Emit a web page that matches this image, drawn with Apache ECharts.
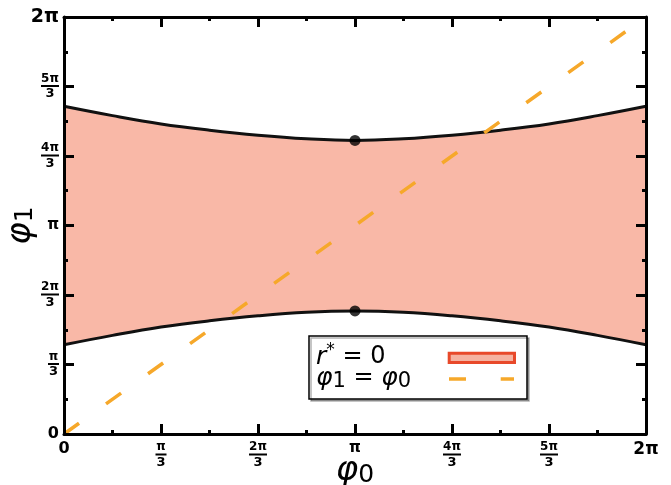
<!DOCTYPE html>
<html>
<head>
<meta charset="utf-8">
<script src="https://cdn.jsdelivr.net/npm/echarts@6/dist/echarts.min.js"></script>
<style>
  html, body { margin: 0; padding: 0; background: #fff; }
  #chart { width: 671px; height: 485px; }
</style>
</head>
<body>
<div id="chart"></div>
<script>
// φ0 sample points and the two boundaries of the r* = 0 region, all in multiples of π
const phi0 = [0, 1/6, 2/6, 3/6, 4/6, 5/6, 1, 7/6, 8/6, 9/6, 10/6, 11/6, 2];
const upperBound = [1.572, 1.527, 1.487, 1.457, 1.433, 1.416, 1.408, 1.416, 1.433, 1.457, 1.487, 1.527, 1.572];
const lowerBound = [0.428, 0.473, 0.513, 0.543, 0.567, 0.584, 0.590, 0.584, 0.567, 0.543, 0.513, 0.473, 0.428];

// marked points at φ0 = π
const markPhi0 = [1, 1];
const markPhi1 = [1.408, 0.590];

// diagonal φ1 = φ0 end points
const diagPhi0 = [0, 2];
const diagPhi1 = [0, 2];

// tick labels, one per π/3
const tickLabels = ['0', 'π/3', '2π/3', 'π', '4π/3', '5π/3', '2π'];

// axes are measured in sixths of π so that ticks land on whole numbers
const SIXTHS = 6;
const toAxis = v => v * SIXTHS;

const FILL = '#f9b8a7';
const PATCH = '#f5b2a0';
const EDGE = '#e8492a';
const ORANGE = '#f6a82a';
const INK = '#111111';
const MATH = 'DejaVu Sans';

function tickFormatter(value) {
  const t = tickLabels[Math.round(value / 2)];
  if (t === '0') return '{z|0}';
  if (t === 'π') return '{p|π}';
  if (t === '2π') return '{w|2π}';
  const parts = t.split('/');
  const bar = parts[0].length > 1 ? 'barW' : 'barN';
  return '{n|' + parts[0] + '}\n{' + bar + '|}\n{d|' + parts[1] + '}';
}

function tickRich(wideSize) {
  return {
    z: { fontFamily: MATH, fontWeight: 'bold', fontSize: 16, color: '#000' },
    p: { fontFamily: MATH, fontWeight: 'bold', fontSize: 15, color: '#000' },
    w: { fontFamily: MATH, fontWeight: 'bold', fontSize: wideSize, color: '#000' },
    n: { fontFamily: MATH, fontWeight: 'bold', fontSize: 12, lineHeight: 12, align: 'center', color: '#000' },
    d: { fontFamily: MATH, fontWeight: 'bold', fontSize: 13, lineHeight: 13, align: 'center', color: '#000' },
    barN: { width: 11, height: 2, lineHeight: 3, backgroundColor: '#000', align: 'center' },
    barW: { width: 18, height: 2, lineHeight: 3, backgroundColor: '#000', align: 'center' }
  };
}

function makeAxis(position, withLabels, wideSize, margin) {
  return {
    type: 'value',
    position: position,
    z: 10,
    min: 0,
    max: toAxis(2),
    interval: 2,
    axisLine: { show: true, onZero: false, lineStyle: { color: '#000', width: 3 } },
    axisTick: { show: true, inside: true, length: 10, lineStyle: { color: '#000', width: 3 } },
    minorTick: { show: true, splitNumber: 2, length: 4, lineStyle: { color: '#000', width: 3 } },
    splitLine: { show: false },
    minorSplitLine: { show: false },
    axisLabel: {
      show: withLabels,
      margin: margin,
      showMinLabel: true,
      showMaxLabel: true,
      hideOverlap: false,
      formatter: tickFormatter,
      rich: tickRich(wideSize)
    }
  };
}

const nameRich = {
  v: { fontFamily: MATH, fontStyle: 'italic', fontSize: 34, color: '#000' },
  s: { fontFamily: MATH, fontSize: 25, color: '#000', padding: [8, 0, 0, 0] }
};

const xBottom = makeAxis('bottom', true, 17, 7);
xBottom.name = '{v|φ}{s|0}';
xBottom.nameLocation = 'middle';
xBottom.nameGap = 20;
xBottom.nameMoveOverlap = false;
xBottom.nameTextStyle = { rich: nameRich };
const xTop = makeAxis('top', false, 17, 7);

const yLeft = makeAxis('left', true, 19, 5);
yLeft.name = '{v|φ}{s|1}';
yLeft.nameLocation = 'middle';
yLeft.nameGap = 26;
yLeft.nameRotate = 90;
yLeft.nameMoveOverlap = false;
yLeft.nameTextStyle = { rich: nameRich };
const yRight = makeAxis('right', false, 19, 7);

const upperPoints = phi0.map((x, i) => [toAxis(x), toAxis(upperBound[i])]);
const lowerPoints = phi0.map((x, i) => [toAxis(x), toAxis(lowerBound[i])]);
const markPoints = markPhi0.map((x, i) => [toAxis(x), toAxis(markPhi1[i])]);
const diagPoints = diagPhi0.map((x, i) => [toAxis(x), toAxis(diagPhi1[i])]);

const SMOOTH = 0.4;

// legend box: key for the shaded region and the diagonal
const LX = 309, LY = 336, LW = 218, LH = 63;
const legendRich = {
  it: { fontFamily: MATH, fontStyle: 'italic', fontSize: 25, fill: '#000' },
  t: { fontFamily: MATH, fontSize: 24, fill: '#000' },
  sup: { fontFamily: MATH, fontSize: 17, fill: '#000', padding: [0, 0, 13, 0] },
  sub: { fontFamily: MATH, fontSize: 21, fill: '#000', padding: [8, 0, 0, 0] }
};
const legendElements = [
  {
    type: 'rect',
    z: 20,
    shape: { x: LX, y: LY, width: LW, height: LH },
    style: { fill: '#fff', stroke: '#000', lineWidth: 1.5,
             shadowColor: 'rgba(0,0,0,0.3)', shadowOffsetX: 2, shadowOffsetY: 2, shadowBlur: 0 }
  },
  {
    type: 'text',
    z: 21,
    x: LX + 7, y: LY + 21,
    style: { text: '{it|r}{sup|*}{t| = 0}', verticalAlign: 'middle', rich: legendRich }
  },
  {
    type: 'text',
    z: 21,
    x: LX + 7, y: LY + 42,
    style: { text: '{it|φ}{sub|1}{t| = }{it|φ}{sub|0}', verticalAlign: 'middle', rich: legendRich }
  },
  {
    type: 'rect',
    z: 21,
    shape: { x: LX + 140.2, y: LY + 17.2, width: 65.3, height: 9.3 },
    style: { fill: PATCH, stroke: EDGE, lineWidth: 3 }
  },
  {
    type: 'line',
    z: 21,
    shape: { x1: LX + 140, y1: LY + 43, x2: LX + 157, y2: LY + 43 },
    style: { stroke: ORANGE, lineWidth: 3.5 }
  },
  {
    type: 'line',
    z: 21,
    shape: { x1: LX + 191.7, y1: LY + 43, x2: LX + 205, y2: LY + 43 },
    style: { stroke: ORANGE, lineWidth: 3.5 }
  }
];

const option = {
  animation: false,
  backgroundColor: '#fff',
  grid: { left: 64, right: 25, top: 17, bottom: 51, outerBoundsMode: 'none', containLabel: false },
  xAxis: [xBottom, xTop],
  yAxis: [yLeft, yRight],
  graphic: { elements: legendElements },
  series: [
    {
      // region r* = 0: shade everything below the upper boundary ...
      name: 'r* = 0',
      type: 'line',
      data: upperPoints,
      smooth: SMOOTH,
      symbol: 'none',
      lineStyle: { color: INK, width: 3 },
      areaStyle: { color: FILL, opacity: 1, origin: 'start' },
      z: 1
    },
    {
      // ... then clear everything below the lower boundary
      name: 'lower',
      type: 'line',
      data: lowerPoints,
      smooth: SMOOTH,
      symbol: 'none',
      lineStyle: { color: INK, width: 3 },
      areaStyle: { color: '#ffffff', opacity: 1, origin: 'start' },
      z: 2
    },
    {
      name: 'φ1 = φ0',
      type: 'line',
      data: diagPoints,
      symbol: 'none',
      itemStyle: { color: ORANGE },
      lineStyle: { color: ORANGE, width: 3.5, type: [18.5, 33.2], cap: 'butt' },
      z: 4
    },
    {
      name: 'marks',
      type: 'scatter',
      data: markPoints,
      symbol: 'circle',
      symbolSize: 11,
      itemStyle: { color: '#000' },
      z: 5
    }
  ]
};

const chart = echarts.init(document.getElementById('chart'), null, { renderer: 'canvas' });
chart.setOption(option);
</script>
</body>
</html>
